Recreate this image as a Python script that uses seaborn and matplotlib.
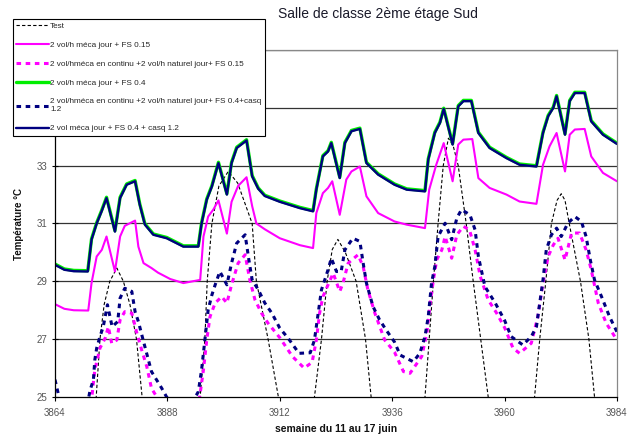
import numpy as np
import seaborn as sns
import matplotlib.pyplot as plt
from matplotlib.transforms import ScaledTranslation

t0 = 3864

# Test (outdoor temperature)
test_h = [0, 5, 7.5, 8.8, 9.6, 10.5, 11.7, 13.2, 14.6, 16, 17.4, 18.6, 20, 24, 28, 30, 31.0, 32.0, 32.5,
          33.5, 35, 37, 39, 42.1, 43, 45.5, 47.7, 49.5, 52, 54.3, 55.4, 56.9, 58.1, 59.2, 60.4, 62, 64.3,
          66.3, 67.5, 69, 73, 77.5, 79, 79.9, 80.8, 81.8, 82.9, 84.0, 85, 86.1, 87.8, 89.3, 90.9, 92.5,
          94, 98, 101.5, 102.4, 103.5, 104.8, 106, 107.2, 108.1, 108.9, 109.8, 112.2, 114, 115.2, 116.5, 120]
test_t = [18.5, 17.5, 21.5, 25, 27, 28.2, 29, 29.46, 29, 28.2, 27, 25, 22.5, 19.5, 18, 22.5, 25, 27, 29,
          31, 32.3, 32.8, 32.4, 31, 29, 27, 25, 22.5, 20, 21.5, 25, 27, 29, 30.1, 30.45, 30.0, 29,
          27, 25, 22, 19.5, 20.5, 25, 27, 29, 31, 33, 33.95, 33.7, 33, 31, 29, 27, 25,
          22, 19, 21.5, 25, 27, 29, 31, 31.8, 32.03, 31.8, 31, 29, 27, 25, 22.5, 19]

# 2 vol/h méca jour + FS 0.15
meca015_h = [0, 2, 4, 7.1, 7.8, 8.9, 10, 11.0, 12.8, 13.9, 14.9, 17.1, 17.8, 18.9, 20.6, 22, 24.6, 27.4,
             31.0, 31.7, 32.7, 33.8, 34.9, 36.7, 37.7, 39.1, 40.9, 42.1, 43.0, 44.8, 48, 52.3, 55.1, 55.8,
             57.2, 58.3, 59.2, 60.8, 62.2, 63.3, 65.1, 66.5, 69, 72.5, 75.1, 79, 79.9, 81.4, 83.0, 84.9,
             86.1, 87.2, 89.1, 90.4, 92.8, 96.4, 99.2, 102.8, 104.2, 105.6, 107.1, 108.9, 109.9, 111,
             113.1, 114.5, 117, 120]
meca015_t = [28.21, 28.05, 28.0, 27.99, 28.94, 29.86, 30.09, 30.55, 29.34, 30.55, 30.92, 31.10, 30.2, 29.63,
             29.46, 29.3, 29.08, 28.94, 29.05, 30.55, 31.24, 31.48, 31.8, 30.65, 31.75, 32.3, 32.6, 31.6,
             31.0, 30.8, 30.49, 30.25, 30.15, 31.36, 32.05, 32.23, 32.46, 31.30, 32.52, 32.80, 32.97,
             31.94, 31.36, 31.07, 30.96, 30.84, 32.17, 33.03, 33.78, 32.46, 33.73, 33.90, 33.92, 32.57,
             32.23, 32.0, 31.76, 31.68, 33.03, 33.67, 34.13, 32.80, 34.07, 34.25, 34.27, 33.32, 32.75,
             32.46]

# 2 vol/h méca en continu + 2 vol/h naturel jour + FS 0.15
cont015_h = [0, 4, 7.5, 8.0, 8.5, 9.6, 10.7, 11.4, 12.1, 13.2, 13.9, 14.9, 16.4, 17.4, 18.5, 19.6, 20.6,
             21.7, 26, 30.5, 31, 31.7, 32.4, 33.1, 34.2, 35.6, 36.7, 37.7, 39.1, 40.6, 41.6, 42.7, 44.1,
             45.5, 48, 50.7, 53.2, 54.9, 55.8, 56.5, 57.2, 58.3, 59.4, 60.8, 61.5, 62.6, 64.7, 65.8, 66.8,
             68.3, 70.4, 72.5, 74.4, 75.8, 78.3, 79.4, 80.1, 80.8, 81.5, 82.6, 83.3, 84.7, 85.8, 87.2,
             88.5, 89.7, 90.8, 92.5, 94.3, 96.0, 97.8, 99.2, 101.7, 103.1, 104.2, 105.3, 106.4, 107.4,
             108.9, 110.3, 112.0, 113.4, 114.5, 116, 117.7, 120]
cont015_t = [24.9, 24.0, 24.3, 25.2, 25.94, 26.69, 27.03, 27.43, 26.86, 26.97, 27.67, 27.95, 27.90, 27.26,
             26.63, 26.05, 25.30, 25.01, 23.9, 24.6, 25.13, 25.94, 26.97, 27.78, 28.25, 28.47, 28.25,
             28.88, 29.63, 29.92, 29.05, 28.36, 27.90, 27.55, 27.05, 26.4, 26.0, 26.2, 26.97, 27.90,
             28.47, 28.88, 29.28, 28.65, 28.94, 29.63, 29.92, 29.51, 28.71, 27.90, 26.97, 26.55, 25.88,
             25.82, 26.40, 27.20, 28.25, 29.05, 29.74, 30.09, 30.55, 29.80, 30.61, 30.90, 30.78, 30.09,
             29.17, 28.36, 27.90, 27.4, 26.69, 26.51, 26.86, 27.78, 28.94, 29.86, 30.26, 30.49, 29.74,
             30.67, 30.67, 30.09, 29.40, 28.25, 27.55, 26.97]

# 2 vol/h méca jour + FS 0.4  and  2 vol méca jour + FS 0.4 + casq 1.2 (almost on top of each other)
meca04_h = [0, 2, 4, 7.0, 7.8, 8.9, 9.95, 11.0, 12.8, 13.9, 15.3, 17.1, 18.1, 19.2, 21, 23.85, 27.4, 30.6,
            31.3, 32.4, 33.5, 34.9, 36.7, 37.7, 38.8, 40.9, 42.1, 43.4, 44.8, 48, 52.3, 55.1, 55.8, 57.2,
            58.3, 59.0, 60.8, 61.9, 63.3, 65.1, 66.5, 69.0, 72.5, 75.1, 79.0, 79.7, 81.1, 82.2, 83.0, 84.9,
            86.1, 87.2, 88.9, 90.4, 92.8, 96.4, 99.2, 102.8, 104.2, 105.3, 106.4, 107.1, 108.9, 109.9,
            111.0, 113.1, 114.5, 117.0, 120]
meca04_t = [29.57, 29.4, 29.35, 29.34, 30.44, 31.0, 31.42, 31.88, 30.72, 31.88, 32.34, 32.46, 31.65, 30.96,
            30.61, 30.49, 30.2, 30.2, 31.0, 31.82, 32.28, 33.09, 32.0, 33.09, 33.61, 33.87, 32.63, 32.2,
            31.95, 31.75, 31.53, 31.42, 32.17, 33.32, 33.49, 33.78, 32.57, 33.78, 34.19, 34.27, 33.09,
            32.69, 32.34, 32.17, 32.11, 33.21, 34.13, 34.48, 34.96, 33.73, 35.05, 35.23, 35.23, 34.13,
            33.61, 33.26, 33.03, 32.97, 34.13, 34.71, 35.0, 35.40, 34.07, 35.23, 35.51, 35.51, 34.53,
            34.07, 33.75]
casq_h = meca04_h
casq_t = meca04_t

# 2 vol/h méca en continu + 2 vol/h naturel jour + FS 0.4 + casq 1.2
cont04_h = [0, 1, 4, 6.5, 7.5, 8.2, 8.5, 8.9, 9.6, 10.3, 11.2, 12.2, 13.4, 13.9, 14.9, 16.4, 17.1, 17.8,
            18.9, 20.6, 22.8, 23.8, 27, 30.2, 30.6, 31.3, 32, 32.7, 33.5, 34.2, 35.2, 36.7, 37.7, 38.8,
            40.6, 41.4, 42.1, 43.4, 44.8, 46.3, 48, 49.8, 52.1, 54.5, 55.4, 56.2, 56.9, 57.6, 58.3, 59.0,
            60.1, 61.1, 61.9, 63.6, 65.1, 65.8, 66.5, 67.9, 69.3, 70.7, 72.5, 73.7, 76.5, 77.9, 79, 79.7,
            80.4, 81.1, 81.8, 83.3, 84.7, 85.8, 86.8, 88.6, 89.7, 90.4, 91.8, 94, 96.0, 97.4, 99.9, 101.7,
            102.8, 103.5, 104.2, 104.9, 106.0, 107.1, 108.1, 109.5, 111, 112.4, 113.4, 114.3, 115.2,
            116.7, 118.4, 120]
cont04_t = [25.6, 24.9, 24.3, 24.4, 25.24, 25.59, 26.28, 26.69, 27.09, 27.43, 28.19, 27.43, 27.61, 28.42,
            28.76, 28.65, 27.95, 27.61, 26.92, 25.88, 25.30, 25.01, 24.3, 25.07, 25.18, 25.94, 26.97,
            28.01, 28.53, 28.88, 29.34, 28.88, 29.63, 30.32, 30.61, 29.74, 29.05, 28.71, 28.25, 27.90,
            27.38, 27.03, 26.51, 26.53, 26.97, 27.90, 28.71, 29.05, 29.40, 29.80, 29.34, 29.34, 30.09,
            30.49, 30.38, 29.63, 28.94, 28.13, 27.67, 27.32, 26.9, 26.45, 26.22, 26.51, 27.09, 27.78,
            28.94, 29.51, 30.55, 31.01, 30.44, 31.19, 31.48, 31.30, 30.78, 29.86, 28.82, 28.25, 27.65,
            27.09, 26.80, 27.09, 27.43, 28.25, 29.05, 30.09, 30.61, 30.84, 30.55, 31.01, 31.24, 31.07,
            30.55, 29.74, 29.05, 28.47, 27.78, 27.25]

labels = ["Test",
          "2 vol/h méca jour + FS 0.15",
          "2 vol/hméca en continu +2 vol/h naturel jour+ FS 0.15",
          "2 vol/h méca jour + FS 0.4",
          "2 vol/hméca en continu +2 vol/h naturel jour+ FS 0.4+casq\n1.2",
          "2 vol méca jour + FS 0.4 + casq 1.2"]

sns.set_theme(style="white")
plt.rcParams['font.family'] = ['Liberation Sans', 'DejaVu Sans']

fig = plt.figure(figsize=(6.38, 4.37), dpi=100)
ax = fig.add_axes([55 / 638, 40 / 437, 562 / 638, 347 / 437])

def hours(h):
    return t0 + np.array(h)

sns.lineplot(x=hours(test_h), y=test_t, ax=ax, color='black', lw=0.8, linestyle=(0, (3, 2)),
             estimator=None, sort=False, label=labels[0])
sns.lineplot(x=hours(meca015_h), y=meca015_t, ax=ax, color='#ff00ff', lw=1.5,
             estimator=None, sort=False, label=labels[1])
sns.lineplot(x=hours(cont015_h), y=cont015_t, ax=ax, color='#ff00ff', lw=2.2, linestyle=(0, (1.5, 1.5)),
             estimator=None, sort=False, label=labels[2])
sns.lineplot(x=hours(meca04_h), y=meca04_t, ax=ax, color='#00ee00', lw=2.4,
             estimator=None, sort=False, label=labels[3])
# green sits a hair above the navy curve in the original
ax.lines[-1].set_transform(ax.transData + ScaledTranslation(0, 0.8 / 100, fig.dpi_scale_trans))
sns.lineplot(x=hours(cont04_h), y=cont04_t, ax=ax, color='#000080', lw=2.2, linestyle=(0, (1.5, 1.5)),
             estimator=None, sort=False, label=labels[4])
sns.lineplot(x=hours(casq_h), y=casq_t, ax=ax, color='#000080', lw=1.7,
             estimator=None, sort=False, label=labels[5])

ax.set_xlim(3864, 3984)
ax.set_ylim(25, 37)
ax.set_xticks(np.arange(3864, 3985, 24))
ax.set_yticks(np.arange(25, 38, 2))
for y in np.arange(27, 38, 2):
    ax.axhline(y, color='#333333', lw=0.9, zorder=0)
ax.tick_params(axis='both', labelsize=7, labelcolor='#555555', color='black', width=0.8)
ax.tick_params(axis='x', bottom=True, length=3, direction='out', pad=5)
ax.tick_params(axis='y', left=True, length=5, direction='inout', pad=3)
ax.spines['left'].set_color('black')
ax.spines['bottom'].set_color('black')
ax.spines['top'].set_color('#888888')
ax.spines['right'].set_color('#888888')
for s in ax.spines.values():
    s.set_linewidth(0.9)

ax.set_xlabel("semaine du 11 au 17 juin", fontsize=7.5, fontweight='bold', labelpad=4, color='#111111')
ax.set_ylabel("Température °C", fontsize=7, fontweight='bold', labelpad=9, color='#111111')
fig.text(378 / 638, 1 - 14 / 437, "Salle de classe 2ème étage Sud", fontsize=10,
         ha='center', va='center', color='#1a1a2a')

leg = ax.legend(loc='upper left', bbox_to_anchor=(13 / 638, 1 - 19 / 437), bbox_transform=fig.transFigure,
                fontsize=5.9, frameon=True, fancybox=False, framealpha=1, edgecolor='black',
                handlelength=4.0, handletextpad=0.15, labelspacing=1.38, borderpad=0.4, borderaxespad=0)
leg.get_frame().set_linewidth(0.8)
leg.set_zorder(10)

fig.savefig("out.png", dpi=100)
